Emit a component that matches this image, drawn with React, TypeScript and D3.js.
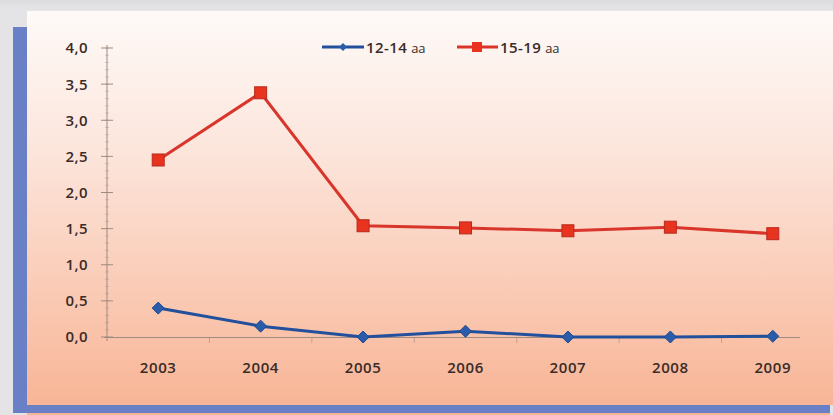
import React from "react";
import * as d3 from "d3";

const years = ["2003", "2004", "2005", "2006", "2007", "2008", "2009"];
const series1214 = [0.4, 0.15, 0.0, 0.08, 0.0, 0.0, 0.01];
const series1519 = [2.45, 3.38, 1.54, 1.51, 1.47, 1.52, 1.43];
const yTicks = [0, 0.5, 1, 1.5, 2, 2.5, 3, 3.5, 4];
const legendNums = ["12-14", "15-19"];
const legendUnit = "aa";

const W = 833;
const H = 415;

export default function App() {
  const x = d3.scaleBand<string>().domain(years).range([107, 824]);
  const y = d3.scaleLinear().domain([0, 4]).range([337, 48]);
  const cx = (d: string) => (x(d) as number) + x.bandwidth() / 2;
  const line = d3
    .line<number>()
    .x((_, i) => cx(years[i]))
    .y((v) => y(v));
  const fmt = (v: number) => v.toFixed(1).replace(".", ",");
  const font = "'Open Sans', 'Liberation Sans', sans-serif";
  const axisColor = "#a08b82";
  const textColor = "#3a2b28";
  const minor = d3.range(0, 4.001, 0.1);

  return (
    <svg
      width={W}
      height={H}
      style={{ position: "absolute", left: 0, top: 0, display: "block" }}
    >
      <defs>
        <linearGradient id="bg" x1="0" y1="0" x2="0" y2="1">
          <stop offset="0" stopColor="#fefaf8" />
          <stop offset="0.35" stopColor="#fce5db" />
          <stop offset="1" stopColor="#f8b393" />
        </linearGradient>
        <linearGradient id="gray" x1="0" y1="0" x2="0" y2="1">
          <stop offset="0" stopColor="#dcdcde" />
          <stop offset="1" stopColor="#e6e6e8" />
        </linearGradient>
      </defs>
      <rect x={0} y={0} width={W} height={H} fill="#e4e4e6" />
      <rect x={0} y={0} width={W} height={11} fill="url(#gray)" />
      <rect x={27} y={11} width={W - 27} height={H - 11} fill="url(#bg)" />
      <rect x={13} y={27} width={14} height={386} fill="#6a80c6" />
      <rect x={13} y={405} width={817} height={8} fill="#6a80c6" />
      <rect x={830} y={405} width={3} height={10} fill="#e4e4e6" />

      {/* y axis */}
      <line x1={107} x2={107} y1={45} y2={341} stroke={axisColor} strokeWidth={1} />
      {minor.map((t, i) => (
        <line
          key={"m" + i}
          x1={105}
          x2={109}
          y1={y(t)}
          y2={y(t)}
          stroke={axisColor}
          strokeOpacity={0.5}
          strokeWidth={0.8}
        />
      ))}
      {yTicks.map((t) => (
        <g key={t}>
          <line x1={101} x2={113} y1={y(t)} y2={y(t)} stroke={axisColor} strokeWidth={1} />
          <text
            x={88}
            y={y(t)}
            dy="0.36em"
            textAnchor="end"
            fontFamily={font}
            fontSize={15}
            fontWeight={600}
            letterSpacing={0.4}
            fill={textColor}
          >
            {fmt(t)}
          </text>
        </g>
      ))}

      {/* x axis */}
      <line x1={104} x2={800} y1={337.5} y2={337.5} stroke={axisColor} strokeWidth={1} />
      {years.map((yr, i) =>
        i > 0 ? (
          <line
            key={"xt" + yr}
            x1={x(yr) as number}
            x2={x(yr) as number}
            y1={338}
            y2={343}
            stroke={axisColor}
            strokeOpacity={0.6}
          />
        ) : null
      )}
      {years.map((yr) => (
        <text
          key={yr}
          x={cx(yr)}
          y={368}
          dy="0.36em"
          textAnchor="middle"
          fontFamily={font}
          fontSize={15}
          fontWeight={600}
          letterSpacing={0.6}
          fill={textColor}
        >
          {yr}
        </text>
      ))}

      {/* red series */}
      <path d={line(series1519) || ""} fill="none" stroke="#d9352b" strokeWidth={3} />
      {series1519.map((v, i) => (
        <rect
          key={"r" + i}
          x={cx(years[i]) - 6}
          y={y(v) - 6}
          width={12}
          height={12}
          fill="#e8331f"
          stroke="#b82a1e"
          strokeWidth={1}
        />
      ))}

      {/* blue series */}
      <path d={line(series1214) || ""} fill="none" stroke="#22509c" strokeWidth={3} />
      {series1214.map((v, i) => {
        const px = cx(years[i]);
        const py = y(v);
        return (
          <path
            key={"b" + i}
            d={`M${px},${py - 6}L${px + 6},${py}L${px},${py + 6}L${px - 6},${py}Z`}
            fill="#2a5caa"
            stroke="#1d4a90"
            strokeWidth={1}
          />
        );
      })}

      {/* legend */}
      <g>
        <line x1={322} x2={364} y1={47} y2={47} stroke="#22509c" strokeWidth={3} />
        <path d="M343,43L347,47L343,51L339,47Z" fill="#2a5caa" />
        <text x={366} y={47} dy="0.36em" fontFamily={font} fill={textColor}>
          <tspan fontSize={15} fontWeight={600} letterSpacing={0.4}>{legendNums[0]}</tspan>
          <tspan fontSize={13} dx={4}>{legendUnit}</tspan>
        </text>
        <line x1={457} x2={498} y1={47} y2={47} stroke="#d9352b" strokeWidth={3} />
        <rect x={472} y={42} width={10} height={10} fill="#e8331f" />
        <text x={500} y={47} dy="0.36em" fontFamily={font} fill={textColor}>
          <tspan fontSize={15} fontWeight={600} letterSpacing={0.4}>{legendNums[1]}</tspan>
          <tspan fontSize={13} dx={4}>{legendUnit}</tspan>
        </text>
      </g>
    </svg>
  );
}
